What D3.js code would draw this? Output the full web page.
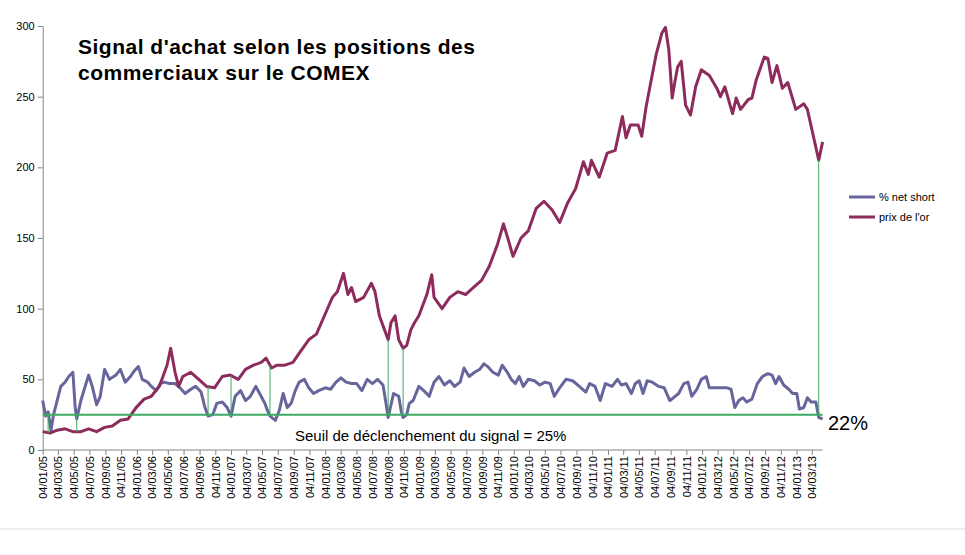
<!DOCTYPE html>
<html><head><meta charset="utf-8">
<script src="https://cdn.jsdelivr.net/npm/d3@7"></script>
<style>body{margin:0;background:#fff}svg{display:block}</style>
</head><body>
<script>
const gold = [["2005-01-04",13],["2005-02-01",12],["2005-03-01",14],["2005-04-01",15],["2005-05-01",13],["2005-06-01",13],["2005-07-01",15],["2005-08-01",13],["2005-09-01",16],["2005-10-01",17],["2005-11-01",21],["2005-12-01",22],
["2006-01-01",30],["2006-02-01",36],["2006-03-01",38],["2006-04-01",45],["2006-05-01",60],["2006-05-15",72],["2006-06-01",55],["2006-06-15",45],["2006-07-01",52],["2006-08-01",55],["2006-09-01",50],["2006-10-01",45],["2006-11-01",44],["2006-12-01",52],
["2007-01-01",53],["2007-02-01",50],["2007-03-01",57],["2007-04-01",60],["2007-05-01",62],["2007-05-20",65],["2007-06-10",58],["2007-07-01",60],["2007-08-01",60],["2007-09-01",62],["2007-10-01",70],["2007-11-01",78],["2007-12-01",82],
["2008-01-01",95],["2008-02-01",108],["2008-02-20",112],["2008-03-15",125],["2008-04-01",110],["2008-04-15",115],["2008-05-01",105],["2008-06-01",108],["2008-07-01",118],["2008-07-15",112],["2008-08-01",95],["2008-08-15",88],["2008-09-04",78],["2008-09-15",90],["2008-10-01",95],["2008-10-15",78],["2008-11-01",72],["2008-11-15",74],["2008-12-01",85],["2008-12-15",90],
["2009-01-01",95],["2009-02-01",110],["2009-02-20",124],["2009-03-01",108],["2009-04-01",100],["2009-05-01",108],["2009-06-01",112],["2009-07-01",110],["2009-08-01",115],["2009-09-01",120],["2009-10-01",130],["2009-11-01",145],["2009-11-25",160],["2009-12-15",148],
["2010-01-01",137],["2010-02-01",150],["2010-03-01",155],["2010-04-01",171],["2010-05-01",176],["2010-06-01",170],["2010-07-01",161],["2010-08-01",175],["2010-09-01",185],["2010-10-01",204],["2010-10-20",195],["2010-11-01",205],["2010-12-01",193],
["2011-01-01",210],["2011-02-01",212],["2011-03-01",236],["2011-03-15",221],["2011-04-01",230],["2011-05-01",230],["2011-05-15",222],["2011-06-01",243],["2011-07-10",280],["2011-08-01",295],["2011-08-15",299],["2011-08-28",283],["2011-09-10",249],["2011-09-20",260],["2011-10-01",271],["2011-10-15",275],["2011-11-01",244],["2011-11-20",237],["2011-12-10",257],
["2012-01-01",269],["2012-02-01",265],["2012-03-01",256],["2012-03-15",250],["2012-04-01",257],["2012-05-01",238],["2012-05-15",249],["2012-06-01",241],["2012-07-01",248],["2012-07-15",249],["2012-08-01",262],["2012-09-01",278],["2012-09-15",277],["2012-10-01",260],["2012-10-20",272],["2012-11-10",256],["2012-12-01",260],
["2013-01-01",241],["2013-02-01",245],["2013-02-15",241],["2013-03-31",205],["2013-04-15",218]];

const netShort = [["2005-01-04",35],["2005-01-15",24],["2005-01-25",27],["2005-02-05",14],["2005-02-15",25],["2005-03-01",35],["2005-03-15",45],["2005-04-01",48],["2005-04-15",52],["2005-05-01",55],["2005-05-10",30],["2005-05-16",22],["2005-06-01",35],["2005-07-01",53],["2005-07-15",45],["2005-08-01",32],["2005-08-15",38],["2005-09-01",57],["2005-09-20",50],["2005-10-15",53],["2005-11-01",57],["2005-11-20",48],["2005-12-10",52],["2005-12-25",56],
["2006-01-10",59],["2006-01-25",50],["2006-02-15",48],["2006-03-01",45],["2006-03-20",42],["2006-04-05",47],["2006-04-20",48],["2006-05-10",47],["2006-06-01",47],["2006-06-20",44],["2006-07-10",40],["2006-08-01",43],["2006-08-20",45],["2006-09-10",41],["2006-09-25",30],["2006-10-07",24],["2006-10-25",25],["2006-11-10",33],["2006-12-01",34],["2006-12-20",30],
["2007-01-04",24],["2007-01-20",38],["2007-02-10",42],["2007-03-01",35],["2007-03-20",38],["2007-04-10",45],["2007-04-25",40],["2007-05-15",33],["2007-05-25",28],["2007-06-04",24],["2007-06-25",21],["2007-07-10",28],["2007-07-25",40],["2007-08-10",30],["2007-08-25",33],["2007-09-10",42],["2007-09-25",48],["2007-10-15",50],["2007-11-01",44],["2007-11-20",40],["2007-12-10",42],
["2008-01-04",44],["2008-01-25",43],["2008-02-15",48],["2008-03-05",51],["2008-03-25",48],["2008-04-15",47],["2008-05-05",47],["2008-05-25",42],["2008-06-15",50],["2008-07-05",47],["2008-07-25",50],["2008-08-15",46],["2008-08-25",35],["2008-09-04",23],["2008-09-25",40],["2008-10-15",38],["2008-10-25",27],["2008-11-01",23],["2008-11-15",25],["2008-11-25",33],["2008-12-10",35],
["2009-01-01",45],["2009-01-20",42],["2009-02-10",38],["2009-03-01",48],["2009-03-20",52],["2009-04-10",46],["2009-05-01",49],["2009-05-20",45],["2009-06-10",48],["2009-06-25",58],["2009-07-15",52],["2009-08-05",55],["2009-08-25",57],["2009-09-10",61],["2009-09-25",59],["2009-10-15",55],["2009-11-05",53],["2009-11-20",60],["2009-12-10",55],["2009-12-25",50],
["2010-01-10",47],["2010-01-25",52],["2010-02-10",45],["2010-03-01",50],["2010-03-25",49],["2010-04-15",46],["2010-05-05",48],["2010-05-25",47],["2010-06-10",38],["2010-07-01",44],["2010-07-25",50],["2010-08-20",49],["2010-09-15",45],["2010-10-10",41],["2010-10-25",47],["2010-11-15",45],["2010-12-05",35],["2010-12-25",47],
["2011-01-20",45],["2011-02-10",50],["2011-02-25",46],["2011-03-15",47],["2011-04-05",40],["2011-04-20",47],["2011-05-05",49],["2011-05-20",40],["2011-06-05",49],["2011-06-25",48],["2011-07-20",45],["2011-08-10",44],["2011-09-01",35],["2011-09-15",37],["2011-10-05",40],["2011-10-25",47],["2011-11-10",48],["2011-11-25",38],["2011-12-15",43],
["2012-01-01",50],["2012-01-20",52],["2012-02-01",44],["2012-02-20",44],["2012-03-15",44],["2012-04-10",44],["2012-04-25",43],["2012-05-10",30],["2012-05-25",35],["2012-06-10",37],["2012-06-25",34],["2012-07-15",36],["2012-08-05",47],["2012-08-25",52],["2012-09-15",54],["2012-10-01",53],["2012-10-15",47],["2012-10-28",52],["2012-11-15",46],["2012-12-05",43],["2012-12-20",40],
["2013-01-05",40],["2013-01-15",29],["2013-02-01",30],["2013-02-15",37],["2013-03-01",34],["2013-03-20",34],["2013-03-31",23],["2013-04-15",22]];

const signalDates = ["2005-01-25","2005-05-16","2006-10-07","2007-01-04","2007-06-04","2008-09-04","2008-11-01","2013-03-31"];
const threshold = 25;
const yTicks = [0,50,100,150,200,250,300];
const titleLines = ["Signal d'achat selon les positions des","commerciaux sur le COMEX"];
const seriesNames = ["% net short","prix de l'or"];
const colors = ["#67669c","#8e2b5d"];

const P = d3.timeParse("%Y-%m-%d");
const g = gold.map(d=>({d:P(d[0]),v:d[1]}));
const n = netShort.map(d=>({d:P(d[0]),v:d[1]}));
const svg = d3.select("body").append("svg").attr("width",965).attr("height",555);
const x = d3.scaleTime().domain([P("2005-01-04"),P("2013-04-15")]).range([42.7,822.6]);
const y = d3.scaleLinear().domain([0,300]).range([450,26]);

const xt = d3.range(50).map(k=>d3.timeMonth.offset(P("2005-01-04"),2*k));
const fmt = d3.timeFormat("%d/%m/%y");

const ya = svg.append("g").attr("transform","translate(42.7,0)").call(d3.axisLeft(y).tickValues(yTicks).tickSize(5).tickSizeOuter(0));
ya.selectAll("text").style("font","11px Arial, 'Liberation Sans'").attr("fill","#000");
ya.selectAll("path,line").attr("stroke","#868686");
const xa = svg.append("g").attr("transform","translate(0,450)").call(d3.axisBottom(x).tickValues(xt).tickFormat(fmt).tickSize(5).tickSizeOuter(0));
xa.select("path").attr("d","M42.7,0H822.6");
xa.selectAll("path,line").attr("stroke","#868686");
xa.selectAll("text").style("font","11px Arial, 'Liberation Sans'").attr("fill","#000")
  .attr("transform","rotate(-90)").attr("text-anchor","end").attr("x",-6).attr("y",0).attr("dy","0.35em");

const line = d3.line().x(d=>x(d.d)).y(d=>y(d.v));
svg.append("path").datum(n).attr("d",line).attr("fill","none").attr("stroke",colors[0]).attr("stroke-width",3).attr("stroke-linejoin","round");
svg.append("path").datum(g).attr("d",line).attr("fill","none").attr("stroke",colors[1]).attr("stroke-width",3).attr("stroke-linejoin","round");

svg.append("line").attr("x1",x.range()[0]).attr("x2",x.range()[1]).attr("y1",y(threshold)).attr("y2",y(threshold)).attr("stroke","#3daa62").attr("stroke-width",2);
const bis = d3.bisector(d=>d.d).left;
function goldAt(dt){const i=bis(g,dt); if(i<=0)return g[0].v; if(i>=g.length)return g[g.length-1].v; const a=g[i-1],b=g[i]; const t=(dt-a.d)/(b.d-a.d); return a.v+(b.v-a.v)*t;}
signalDates.forEach(s=>{const dt=P(s);
  svg.append("line").attr("x1",x(dt)).attr("x2",x(dt)).attr("y1",y(threshold)).attr("y2",y(goldAt(dt))).attr("stroke","#3daa62").attr("stroke-width",1);});

svg.append("text").attr("x",295).attr("y",441).text("Seuil de déclenchement du signal = "+threshold+"%").style("font","15px Arial, 'Liberation Sans'");
svg.append("text").attr("x",828).attr("y",430).text("22%").style("font","20px Arial, 'Liberation Sans'");

titleLines.forEach((t,i)=>svg.append("text").attr("x",78).attr("y",54+i*26).text(t).style("font","bold 21px Arial, 'Liberation Sans'").style("letter-spacing","0.5px").attr("fill","#000"));

seriesNames.forEach((s,i)=>{
  svg.append("line").attr("x1",849).attr("x2",875).attr("y1",197+i*20).attr("y2",197+i*20).attr("stroke",colors[i]).attr("stroke-width",3);
  svg.append("text").attr("x",879).attr("y",201+i*20).text(s).style("font","11px Arial, 'Liberation Sans'");
});
svg.append("line").attr("x1",0).attr("x2",965).attr("y1",529).attr("y2",529).attr("stroke","#d9d9d9");
</script>
</body></html>
